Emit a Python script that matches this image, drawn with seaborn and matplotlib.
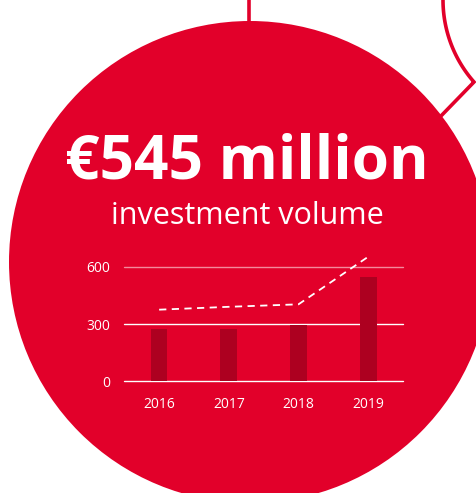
import numpy as np
import pandas as pd
import matplotlib.pyplot as plt
import seaborn as sns
from matplotlib.patches import Circle

# data (EUR million)
years = ["2016", "2017", "2018", "2019"]
volume = [274, 276, 295, 545]
trend = [375, 390, 403, 652]
y_ticks = [0, 300, 600]

headline = "€545 million"
subline = "investment volume"

RED = "#E2002A"
BAR_RED = "#AD0020"

sns.set_style("white")
plt.rcParams["font.family"] = ["Open Sans", "DejaVu Sans"]

W, H = 476, 493
fig = plt.figure(figsize=(W / 100, H / 100), dpi=100)
fig.patch.set_facecolor("white")

# background layer in pixel coordinates (y down)
bg = fig.add_axes([0, 0, 1, 1])
bg.set_xlim(0, W)
bg.set_ylim(H, 0)
bg.axis("off")

bg.add_patch(Circle((250, 262), 241, color=RED, zorder=2, lw=0))
bg.plot([249, 249], [-5, 40], color=RED, lw=2.6, zorder=1, solid_capstyle="butt")

# outline of the neighbouring bubble, top right
t = np.linspace(np.pi + 0.2, np.arctan2(82, -93), 60)
ox = list(567 + 124 * np.cos(t)) + [410]
oy = list(124 * np.sin(t)) + [82 + (474 - 410) * 35 / 34]
bg.plot(ox, oy, color=RED, lw=2.6, zorder=1, solid_joinstyle="miter")

bg.text(247, 163, headline, color="white", fontsize=43.5, fontweight="bold",
        ha="center", va="center", zorder=3)
bg.text(247, 216, subline, color="white", fontsize=22, fontweight="normal",
        ha="center", va="center", zorder=3)

# bar chart
x0, x1 = 124.3, 403.0
y_zero, px_per_unit = 381.3, 0.191
y_top = 680
ax = fig.add_axes([x0 / W, (H - y_zero) / H, (x1 - x0) / W, y_top * px_per_unit / H])
ax.set_facecolor("none")

df = pd.DataFrame({"year": years, "volume": volume, "trend": trend})

grid_colors = ["white", "white", "#F38A9C"]
for val, c in zip(y_ticks, grid_colors):
    ax.axhline(val, color=c, lw=1.0, zorder=0, clip_on=False)

sns.barplot(data=df, x="year", y="volume", color=BAR_RED, width=0.24,
            saturation=1, linewidth=0, edgecolor="none", ax=ax, zorder=2)
sns.lineplot(x=np.arange(len(years)), y=df["trend"], color="white", lw=1.3,
             dashes=False, ax=ax, zorder=3)
ax.lines[-1].set_dashes((4, 3))
ax.lines[-1].set_clip_on(False)

ax.set_xlim(-0.5, 3.5)
ax.set_ylim(0, y_top)
ax.set_yticks(y_ticks)
ax.set_xticks(range(len(years)))
ax.set_xticklabels(years)
ax.set_xlabel("")
ax.set_ylabel("")
ax.tick_params(axis="both", length=0, labelcolor="white", labelsize=10)
ax.tick_params(axis="y", pad=10)
ax.tick_params(axis="x", pad=11)
sns.despine(ax=ax, left=True, bottom=True)

fig.savefig("out.png", dpi=100)
